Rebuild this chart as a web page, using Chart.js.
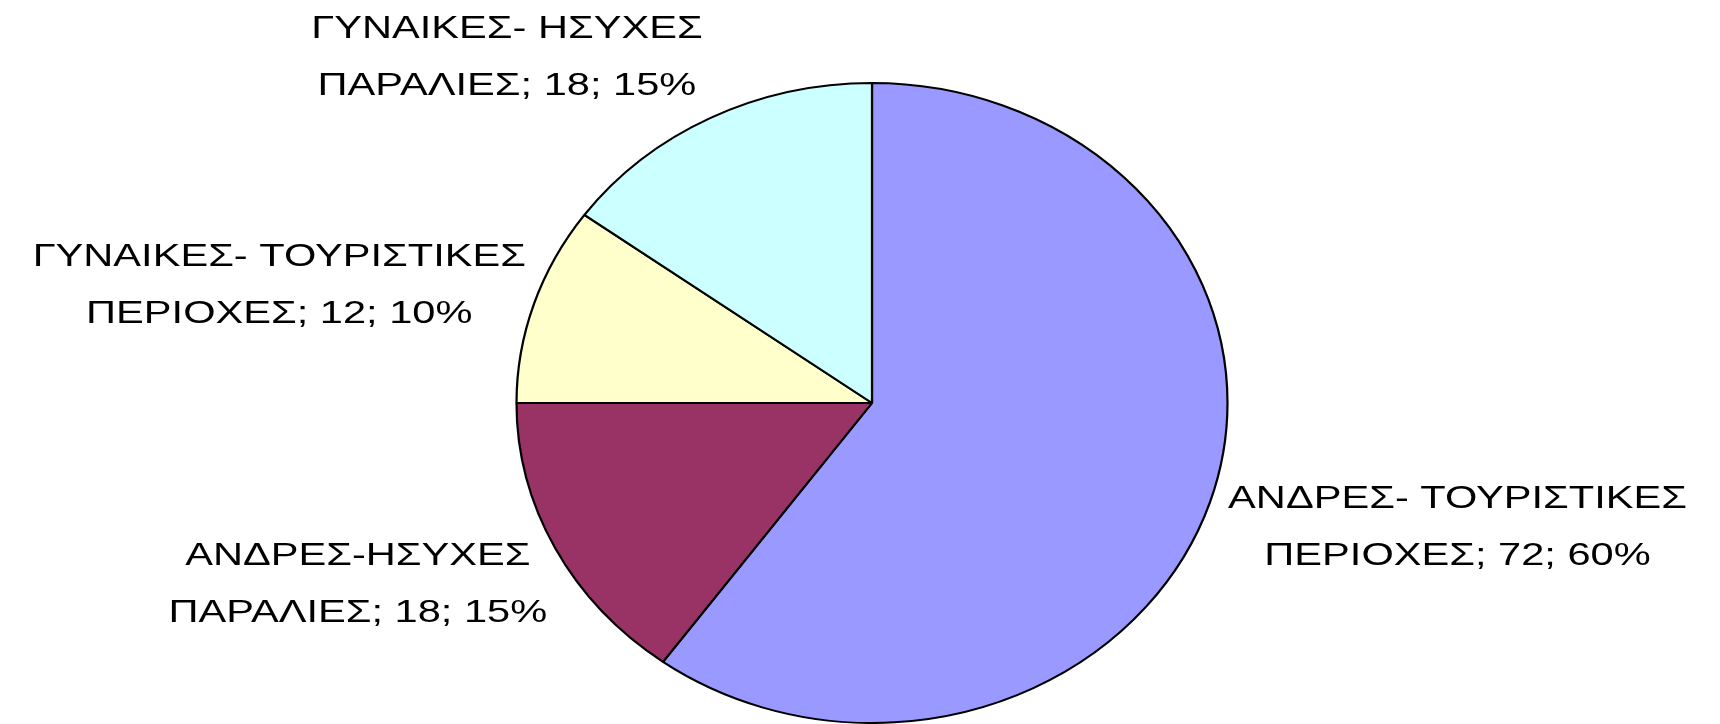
<!DOCTYPE html>
<html>
<head>
<meta charset="utf-8">
<script src="https://cdn.jsdelivr.net/npm/chart.js@4"></script>
<style>
  html, body { margin: 0; padding: 0; background: #fff; }
  #wrap { width: 1720px; height: 724px; position: relative; }
</style>
</head>
<body>
<div id="wrap"><canvas id="pieChart"></canvas></div>
<script>
// Category names, already split in two lines like the original labels
const categories = [
    ['ΑΝΔΡΕΣ- ΤΟΥΡΙΣΤΙΚΕΣ', 'ΠΕΡΙΟΧΕΣ'],
    ['ΑΝΔΡΕΣ-ΗΣΥΧΕΣ', 'ΠΑΡΑΛΙΕΣ'],
    ['ΓΥΝΑΙΚΕΣ- ΤΟΥΡΙΣΤΙΚΕΣ', 'ΠΕΡΙΟΧΕΣ'],
    ['ΓΥΝΑΙΚΕΣ- ΗΣΥΧΕΣ', 'ΠΑΡΑΛΙΕΣ']
];
const counts = [72, 18, 12, 18];
const percents = [60, 15, 10, 15];
const sliceColors = ['#9999FF', '#993366', '#FFFFCC', '#CCFFFF'];

// pie is drawn as an ellipse like the excel original
const STRETCH_X = 355.5 / 320;
// excel text is rendered wider than normal Arial
const TEXT_STRETCH = 1.3;
const LABEL_FONT = '32px "Liberation Sans", Arial, sans-serif';
const LINE_H = 57;

const ellipsePlugin = {
    id: 'ellipse',
    beforeDatasetsDraw(chart) {
        const arc = chart.getDatasetMeta(0).data[0];
        const ctx = chart.ctx;
        ctx.save();
        ctx.translate(arc.x, arc.y);
        ctx.scale(STRETCH_X, 1);
        ctx.translate(-arc.x, -arc.y);
    },
    afterDatasetsDraw(chart) {
        chart.ctx.restore();
    }
};

const labelPlugin = {
    id: 'outsideLabels',
    afterDraw(chart) {
        const ctx = chart.ctx;
        const meta = chart.getDatasetMeta(0);
        ctx.save();
        ctx.font = LABEL_FONT;
        ctx.fillStyle = '#000';
        ctx.textAlign = 'center';
        ctx.textBaseline = 'middle';
        meta.data.forEach((arc, i) => {
            const mid = (arc.startAngle + arc.endAngle) / 2;
            const cos = Math.cos(mid), sin = Math.sin(mid);
            const px = arc.x + arc.outerRadius * STRETCH_X * cos;
            const py = arc.y + arc.outerRadius * sin;
            const lines = [
                categories[i][0],
                categories[i][1] + '; ' + counts[i] + '; ' + percents[i] + '%'
            ];
            const w = Math.max(...lines.map(l => ctx.measureText(l).width)) * TEXT_STRETCH;
            const side = cos >= 0 ? 1 : -1;
            const gap = side > 0 ? 18 : 8;
            const bx = px + gap * side + side * w / 2;
            const by = py + 72 * sin + 4;
            ctx.save();
            ctx.translate(bx, by);
            ctx.scale(TEXT_STRETCH, 1);
            ctx.fillText(lines[0], 0, -LINE_H / 2);
            ctx.fillText(lines[1], 0, LINE_H / 2);
            ctx.restore();
        });
        ctx.restore();
    }
};

const ctx = document.getElementById('pieChart').getContext('2d');
new Chart(ctx, {
    type: 'pie',
    data: {
        labels: categories.map(c => c.join(' ')),
        datasets: [{
            data: counts,
            backgroundColor: sliceColors,
            borderColor: '#000',
            borderWidth: 2,
            hoverOffset: 0
        }]
    },
    options: {
        responsive: true,
        maintainAspectRatio: false,
        animation: false,
        layout: { padding: { top: 82, bottom: 0, left: 24, right: 0 } },
        plugins: {
            legend: { display: false },
            tooltip: { enabled: false }
        }
    },
    plugins: [ellipsePlugin, labelPlugin]
});
</script>
</body>
</html>
